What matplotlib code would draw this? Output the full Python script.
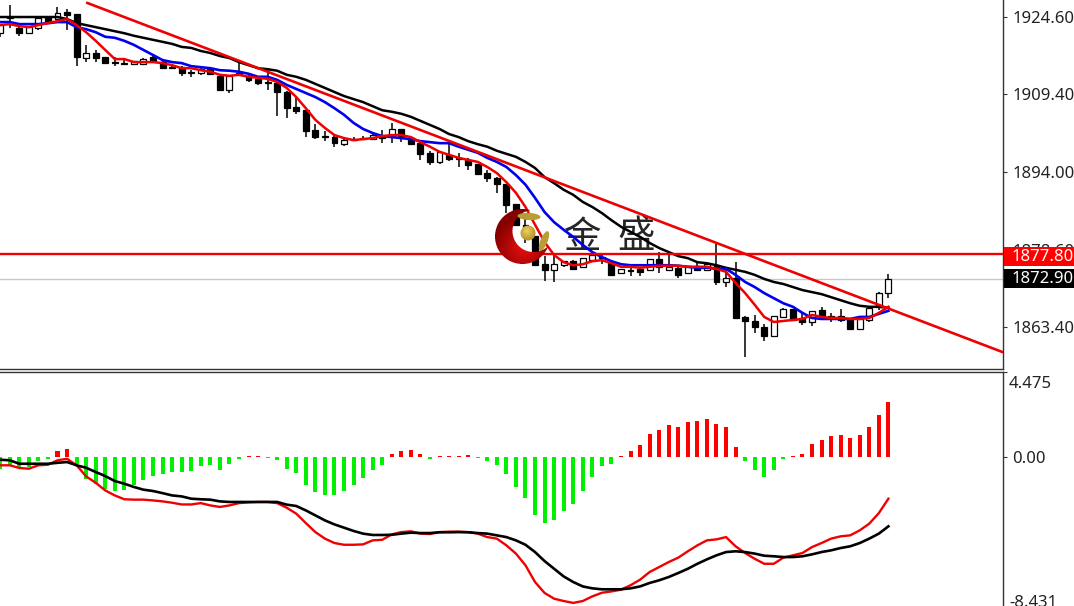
import numpy as np
import matplotlib
matplotlib.use("Agg")
import matplotlib.pyplot as plt
from matplotlib.patches import Rectangle

W, H = 1074, 606
plt.rcParams['font.family'] = ['Noto Sans', 'DejaVu Sans']

# ---- price data ----
opens = [1921.4,1924.4,1922.4,1921.4,1922.4,1924.6,1924.2,1925.6,1925.2,1916.5,
         1917.5,1916.7,1915.7,1915.5,1915.3,1915.3,1916.7,1915.7,1914.7,1914.7,
         1913.8,1913.6,1914.5,1913.0,1910.2,1913.6,1913.0,1912.4,1911.8,1911.6,
         1909.8,1906.8,1906.2,1902.3,1901.1,1900.9,1899.5,1900.5,1900.7,1900.5,
         1900.9,1901.1,1902.5,1900.7,1899.7,1897.8,1896.0,1897.4,1896.8,1896.4,
         1895.6,1893.8,1892.8,1891.6,1887.7,1883.6,1881.4,1875.8,1874.7,1875.6,
         1876.4,1875.3,1876.6,1877.2,1876.0,1874.1,1874.7,1874.9,1874.7,1876.8,
         1874.7,1875.1,1874.1,1875.5,1874.7,1875.6,1872.3,1873.1,1865.4,1864.6,
         1863.4,1861.6,1865.4,1867.0,1865.2,1864.4,1866.8,1865.6,1865.6,1865.0,
         1863.0,1864.8,1867.4,1870.1]
highs = [1923.0,1927.0,1922.8,1922.6,1924.4,1924.8,1926.6,1926.2,1925.2,1919.1,
         1918.1,1916.7,1916.7,1916.1,1915.9,1916.5,1917.1,1916.1,1915.3,1914.9,
         1914.1,1914.7,1914.7,1913.0,1913.0,1915.7,1913.2,1912.8,1914.5,1911.8,
         1910.0,1908.8,1906.2,1903.5,1902.1,1901.3,1900.5,1900.9,1901.1,1901.5,
         1902.3,1903.7,1902.5,1900.9,1899.7,1898.2,1898.0,1899.7,1897.8,1896.8,
         1895.6,1894.4,1893.0,1891.6,1887.7,1885.1,1881.4,1877.4,1877.4,1876.4,
         1876.6,1877.0,1877.6,1877.8,1876.2,1874.9,1875.1,1874.9,1876.8,1878.2,
         1878.2,1875.3,1875.3,1876.2,1875.8,1879.8,1875.1,1876.2,1865.6,1865.8,
         1864.0,1865.6,1867.2,1867.0,1866.2,1866.6,1867.4,1866.2,1867.0,1865.0,
         1865.0,1867.2,1870.3,1873.9]
lows = [1920.7,1922.4,1920.9,1921.2,1922.0,1923.4,1924.0,1922.0,1914.9,1915.7,
        1915.7,1915.5,1914.9,1915.3,1915.3,1915.3,1915.7,1914.5,1914.3,1913.0,
        1912.8,1913.2,1913.4,1910.2,1909.6,1913.0,1911.8,1911.2,1910.2,1905.1,
        1904.7,1905.5,1900.9,1900.5,1900.1,1899.0,1899.1,1900.1,1900.3,1900.5,
        1899.7,1899.7,1899.9,1899.3,1896.4,1895.4,1895.6,1896.2,1895.0,1894.4,
        1893.4,1892.0,1889.9,1885.9,1883.4,1880.0,1875.5,1872.5,1872.3,1875.3,
        1874.7,1875.3,1876.6,1875.8,1873.5,1873.9,1873.5,1873.5,1874.7,1874.1,
        1874.7,1873.1,1873.9,1874.5,1874.7,1871.7,1871.3,1865.2,1857.5,1862.2,
        1860.6,1861.5,1865.4,1864.8,1863.8,1863.6,1865.4,1864.4,1864.4,1863.0,
        1863.0,1864.4,1866.8,1869.1]
closes = [1923.0,1924.6,1921.4,1922.6,1924.4,1923.4,1925.4,1925.0,1916.7,1917.5,
          1916.5,1915.5,1915.5,1915.3,1915.9,1916.3,1915.9,1914.5,1914.5,1913.6,
          1913.6,1914.3,1913.4,1910.2,1913.0,1913.2,1912.2,1911.6,1911.6,1909.8,
          1906.6,1906.1,1902.1,1900.9,1900.9,1899.7,1900.3,1900.3,1900.5,1901.3,
          1900.7,1902.5,1900.9,1899.5,1897.6,1896.0,1898.0,1896.6,1896.6,1895.4,
          1893.6,1892.8,1891.6,1887.5,1883.6,1882.0,1875.6,1874.7,1875.8,1876.4,
          1874.9,1877.0,1877.6,1877.0,1873.7,1874.9,1874.5,1874.3,1876.8,1875.3,
          1875.3,1873.7,1875.3,1874.7,1875.8,1872.3,1873.1,1865.2,1864.6,1863.4,
          1861.6,1865.6,1867.0,1864.8,1864.4,1866.6,1865.4,1865.2,1864.8,1863.0,
          1865.0,1867.2,1870.1,1872.9]

ma_black = [1924.6,1924.6,1924.6,1924.6,1924.6,1924.6,1924.6,1924.2,1923.4,1923.0,
            1922.6,1922.2,1921.8,1921.4,1920.9,1920.5,1920.1,1919.7,1919.3,1918.7,
            1918.5,1917.9,1917.5,1916.9,1916.5,1915.7,1915.1,1914.5,1914.3,1914.0,
            1913.2,1912.8,1912.2,1911.4,1910.6,1909.8,1909.0,1908.4,1907.8,1907.0,
            1906.2,1905.9,1905.5,1904.9,1904.1,1903.3,1902.5,1901.5,1900.9,1900.1,
            1899.5,1899.0,1898.2,1897.6,1897.0,1896.0,1894.8,1893.0,1891.8,1890.5,
            1889.5,1888.1,1887.1,1885.9,1884.5,1883.2,1882.2,1881.2,1880.0,1879.0,
            1878.2,1877.4,1877.0,1876.2,1876.0,1875.6,1875.1,1874.7,1874.3,1873.7,
            1872.9,1872.3,1871.9,1871.3,1870.7,1870.3,1869.9,1869.3,1868.7,1868.1,
            1867.6,1867.4,1867.4,1867.2]
ma_blue = [1923.6,1923.6,1923.2,1923.2,1923.2,1923.4,1923.6,1923.6,1922.6,1922.2,
           1921.6,1920.7,1920.5,1919.9,1919.1,1918.1,1917.1,1916.1,1915.7,1915.5,
           1914.9,1914.7,1914.5,1914.1,1914.0,1913.8,1913.4,1912.8,1912.8,1912.2,
           1911.2,1910.4,1909.6,1908.8,1907.8,1906.6,1905.3,1903.7,1902.5,1901.7,
           1901.1,1900.9,1900.7,1900.5,1900.1,1899.9,1899.7,1899.7,1899.0,1898.4,
           1897.8,1896.8,1896.0,1895.0,1893.4,1891.5,1888.9,1886.1,1884.1,1882.6,
           1881.2,1879.6,1878.2,1877.2,1876.4,1875.8,1875.6,1875.6,1875.6,1875.6,
           1875.6,1875.5,1875.3,1875.1,1875.1,1874.9,1874.9,1873.7,1872.3,1871.3,
           1870.1,1869.1,1868.1,1867.4,1866.2,1865.2,1865.0,1865.0,1865.0,1865.0,
           1865.4,1865.4,1866.0,1866.6]
ma_red = [1923.0,1923.2,1922.8,1922.6,1923.0,1923.4,1923.8,1924.2,1923.0,1921.6,
          1919.9,1918.1,1916.3,1916.3,1915.7,1915.7,1915.7,1915.5,1915.1,1914.5,
          1914.5,1914.1,1913.8,1913.2,1913.0,1913.2,1912.8,1912.6,1912.4,1911.8,
          1910.6,1908.8,1906.6,1904.3,1902.7,1901.3,1900.7,1900.3,1900.5,1900.7,
          1901.1,1901.3,1901.3,1900.9,1899.9,1899.0,1898.0,1897.4,1896.8,1896.4,
          1896.0,1895.0,1893.8,1892.0,1889.9,1887.1,1883.6,1880.2,1877.6,1876.2,
          1875.6,1875.8,1876.4,1876.6,1876.0,1875.3,1875.3,1875.1,1875.3,1875.5,
          1875.5,1875.5,1875.3,1875.3,1875.3,1874.9,1874.3,1872.1,1870.1,1867.8,
          1865.4,1864.4,1864.6,1864.8,1865.0,1865.8,1865.4,1865.2,1865.2,1865.0,
          1865.0,1865.2,1866.2,1867.4]

trend_bars = [9.13, 104.9]
trend_prices = [1927.37, 1858.5]
level_price = 1877.80
last_price = 1872.90
price_ticks = [1924.60, 1909.40, 1894.00, 1878.60, 1863.40]

# ---- MACD data ----
macd_hist = [-0.61,-0.43,-0.57,-0.52,-0.21,-0.09,0.31,0.43,-0.35,-1.13,
             -1.39,-1.65,-1.77,-1.70,-1.47,-1.22,-0.97,-0.90,-0.78,-0.78,
             -0.73,-0.49,-0.42,-0.66,-0.35,-0.09,0.05,0.04,-0.06,-0.17,
             -0.61,-0.83,-1.47,-1.82,-1.96,-1.98,-1.77,-1.47,-1.09,-0.66,
             -0.43,0.17,0.33,0.38,0.17,-0.10,0.08,0.06,0.08,0.10,
             -0.07,-0.21,-0.43,-0.90,-1.56,-2.14,-3.00,-3.44,-3.26,-2.83,
             -2.45,-1.77,-1.04,-0.47,-0.35,0.04,0.33,0.64,1.18,1.39,
             1.65,1.56,1.82,1.89,2.00,1.70,1.56,0.50,-0.21,-0.66,
             -1.04,-0.66,-0.09,0.05,0.17,0.69,0.87,1.08,1.13,1.01,
             1.13,1.56,2.17,2.86]
macd_black = [-0.14,-0.17,-0.35,-0.35,-0.35,-0.35,-0.30,-0.26,-0.43,-0.56,
              -0.78,-0.99,-1.25,-1.39,-1.56,-1.70,-1.77,-1.88,-2.00,-2.05,
              -2.17,-2.20,-2.22,-2.31,-2.34,-2.34,-2.34,-2.34,-2.34,-2.34,
              -2.48,-2.55,-2.78,-3.04,-3.30,-3.51,-3.68,-3.85,-3.99,-4.06,
              -4.06,-4.05,-3.99,-3.94,-3.96,-3.96,-3.92,-3.92,-3.91,-3.92,
              -3.96,-3.99,-4.08,-4.17,-4.34,-4.57,-4.95,-5.42,-5.82,-6.22,
              -6.51,-6.74,-6.84,-6.89,-6.89,-6.89,-6.84,-6.74,-6.56,-6.42,
              -6.25,-6.04,-5.82,-5.56,-5.33,-5.12,-4.95,-4.91,-4.95,-5.03,
              -5.14,-5.17,-5.21,-5.21,-5.17,-5.07,-4.95,-4.86,-4.74,-4.65,
              -4.48,-4.25,-3.99,-3.61]
macd_red = [-0.43,-0.43,-0.57,-0.61,-0.43,-0.40,-0.17,-0.09,-0.43,-1.01,
            -1.34,-1.74,-2.00,-2.20,-2.22,-2.22,-2.26,-2.31,-2.38,-2.47,
            -2.47,-2.40,-2.52,-2.60,-2.52,-2.40,-2.36,-2.34,-2.34,-2.40,
            -2.64,-2.95,-3.44,-3.91,-4.25,-4.48,-4.57,-4.57,-4.55,-4.34,
            -4.31,-4.03,-3.91,-3.87,-3.99,-4.01,-3.91,-3.89,-3.89,-3.91,
            -3.99,-4.17,-4.25,-4.60,-5.03,-5.64,-6.51,-7.08,-7.38,-7.50,
            -7.60,-7.50,-7.26,-7.07,-7.00,-6.91,-6.68,-6.39,-5.99,-5.73,
            -5.47,-5.24,-4.91,-4.60,-4.34,-4.29,-4.17,-4.65,-5.00,-5.30,
            -5.56,-5.56,-5.24,-5.12,-5.00,-4.69,-4.48,-4.25,-4.13,-4.08,
            -3.82,-3.47,-2.92,-2.17]
macd_labels = ["4.475", "0.00", "-8.431"]

# ---- layout ----
fig = plt.figure(figsize=(W / 100, H / 100), dpi=100, facecolor='white')
PW = 1003
ax1 = fig.add_axes([0, 1 - 369 / H, PW / W, 369 / H])
ax2 = fig.add_axes([0, 0, PW / W, (H - 372) / H])

bars = np.arange(len(opens))
xlim = (-0.02, 105.0)
LS = 12.0
for ax in (ax1, ax2):
    ax.set_xlim(*xlim)
    ax.set_xticks([])
    ax.yaxis.tick_right()
    for s in ('left', 'top'):
        ax.spines[s].set_visible(False)
    for s in ('right', 'bottom'):
        ax.spines[s].set_color('#333333')
        ax.spines[s].set_linewidth(1.0)
    ax.tick_params(axis='y', length=3, width=0.8, color='#333333', pad=3.6,
                   labelsize=LS, labelcolor='#222222')
ax2.spines['top'].set_visible(True)
ax2.spines['top'].set_color('#333333')
ax2.spines['top'].set_linewidth(1.0)
ax2.spines['bottom'].set_visible(False)

ax1.set_ylim(1855.12, 1927.96)
ax1.set_yticks(price_ticks)
ax1.set_yticklabels([f"{v:.2f}" for v in price_ticks])

# watermark
for ch, px in (("金", 582.5), ("盛", 636)):
    ax1.text(px / PW, 1 - 237 / 369, ch, transform=ax1.transAxes, family=['Noto Sans CJK SC'],
             fontsize=27, color='#262626', ha='center', va='center', zorder=1)

# candles
o, h, l, c = map(np.array, (opens, highs, lows, closes))
up = c > o
ax1.vlines(bars, l, h, color='black', lw=1.1, zorder=2)
ax1.bar(bars, np.abs(c - o), bottom=np.minimum(o, c), width=0.62,
        color=np.where(up, 'white', 'black'), edgecolor='black', linewidth=0.9, zorder=3)

# horizontal levels
ax1.axhline(last_price, color='#c8c8c8', lw=1.0, zorder=1.5)
ax1.axhline(level_price, color='#f00000', lw=1.7, zorder=5)

# moving averages and trendline
ax1.plot(bars, ma_black, color='black', lw=1.8, zorder=4)
ax1.plot(bars, ma_blue, color='#0000f0', lw=1.9, zorder=4.2)
ax1.plot(bars, ma_red, color='#f00000', lw=1.8, zorder=4.4)
ax1.plot(trend_bars, trend_prices, color='#f00000', lw=1.9, zorder=5)

# price tags in the axis strip (the tags sit a few pixels below their levels)
for val, bg, shift in ((level_price, '#ff0000', 2.5), (last_price, '#000000', 0)):
    y_fig = (ax1.transData.transform((0, val))[1] - shift) / H
    fig.add_artist(Rectangle((1004 / W, y_fig - 9.5 / H), 70 / W, 19 / H, transform=fig.transFigure,
                             facecolor=bg, edgecolor='none', zorder=6))
    fig.text(1012 / W, y_fig, f"{val:.2f}", color='white', fontsize=LS,
             ha='left', va='center', zorder=7)

# MACD
ax2.set_ylim(-7.76, 4.43)
hist = np.array(macd_hist)
ax2.bar(bars, hist, width=0.42, color=np.where(hist >= 0, '#ff0000', '#00f000'),
        linewidth=0, zorder=2)
ax2.plot(bars, macd_red, color='#f00000', lw=1.7, zorder=3)
ax2.plot(bars, macd_black, color='black', lw=1.9, zorder=4)
ax2.set_yticks([4.43, 0.0])
ax2.set_yticklabels(["", macd_labels[1]])
ax2.text(1009 / PW, 1 - (384 - 372) / (H - 372), macd_labels[0], transform=ax2.transAxes,
         fontsize=LS, color='#222222', ha='left', va='center', clip_on=False)
ax2.text(1009 / PW, 1 - (603 - 372) / (H - 372), macd_labels[2], transform=ax2.transAxes,
         fontsize=LS, color='#222222', ha='left', va='center', clip_on=False)

# crescent logo, composited as an image
x0, y0, side = 490, 204, 66
ss = 4
yy, xx = np.mgrid[0:side * ss, 0:side * ss]
xx = x0 + (xx + 0.5) / ss
yy = y0 + (yy + 0.5) / ss
rgba = np.zeros((side * ss, side * ss, 4))
outer = np.hypot(xx - 522.5, yy - 236.5) <= 27.5
inner = np.hypot(xx - 533.5, yy - 231.0) <= 21.0
cres = outer & ~inner
shade = np.clip(np.hypot(xx - 524, yy - 247) / 30, 0, 1)
rgba[..., 0][cres] = (0.93 - 0.4 * shade)[cres]
rgba[..., 1][cres] = (0.06 * (1 - shade))[cres]
rgba[..., 2][cres] = (0.06 * (1 - shade))[cres]
rgba[..., 3][cres] = 1


def leaf(cx, cy, a, b, deg):
    t = np.deg2rad(deg)
    u = (xx - cx) * np.cos(t) + (yy - cy) * np.sin(t)
    v = -(xx - cx) * np.sin(t) + (yy - cy) * np.cos(t)
    return (u / a) ** 2 + (v / b) ** 2 <= 1


gold = leaf(529, 216.5, 11.5, 3.6, 3) | leaf(544, 241, 10.5, 3.6, -68)
rgba[gold] = (0.72, 0.62, 0.2, 1)
ball_d = np.hypot(xx - 528, yy - 233)
ball = ball_d <= 7.5
g = np.clip(np.hypot(xx - 527, yy - 231) / 8, 0, 1)
rgba[..., 0][ball] = (0.93 - 0.2 * g)[ball]
rgba[..., 1][ball] = (0.82 - 0.22 * g)[ball]
rgba[..., 2][ball] = (0.38 - 0.2 * g)[ball]
rgba[..., 3][ball] = 1
# downsample with premultiplied alpha
premul = rgba.copy()
premul[..., :3] *= rgba[..., 3:4]
img = premul.reshape(side, ss, side, ss, 4).mean(axis=(1, 3))
a = img[..., 3:4]
img[..., :3] = np.where(a > 0, img[..., :3] / np.maximum(a, 1e-6), 1)
fig.figimage(img, xo=x0, yo=H - y0 - side, origin='upper', zorder=5)

fig.savefig("out.png", dpi=100)
